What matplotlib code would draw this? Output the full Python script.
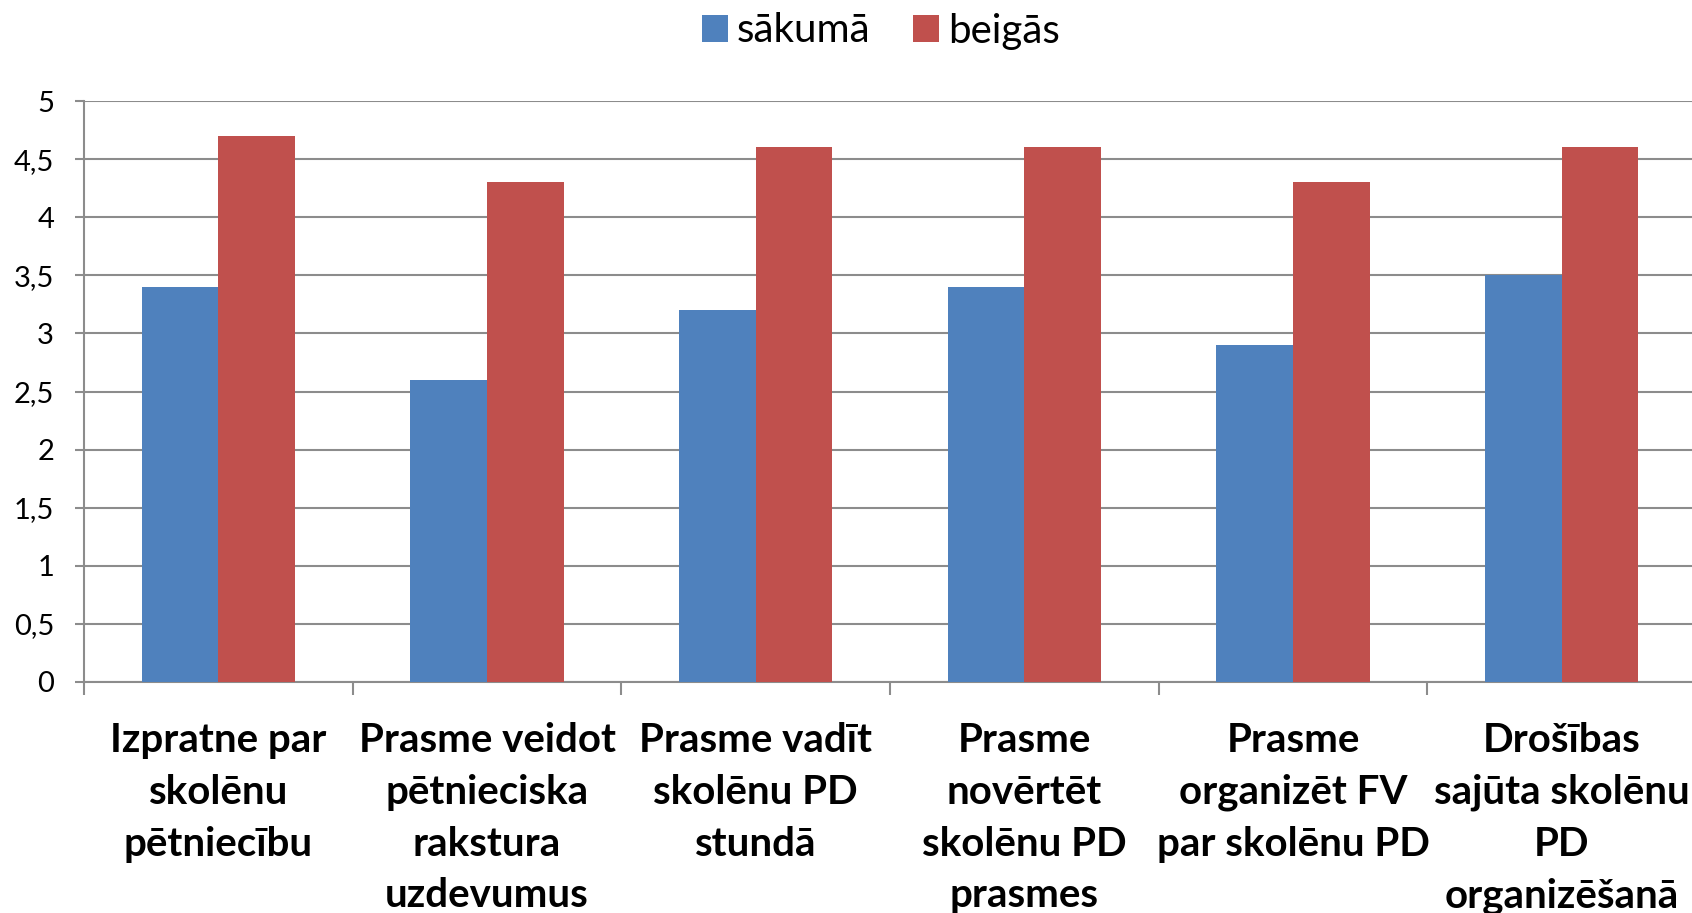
import matplotlib
matplotlib.use("Agg")
import matplotlib.pyplot as plt
import numpy as np

categories = [
    "Izpratne par\nskolēnu\npētniecību",
    "Prasme veidot\npētnieciska\nrakstura\nuzdevumus",
    "Prasme vadīt\nskolēnu PD\nstundā",
    "Prasme\nnovērtēt\nskolēnu PD\nprasmes",
    "Prasme\norganizēt FV\npar skolēnu PD",
    "Drošības\nsajūta skolēnu\nPD\norganizēšanā",
]
sakuma = [3.4, 2.6, 3.2, 3.4, 2.9, 3.5]
beigas = [4.7, 4.3, 4.6, 4.6, 4.3, 4.6]
series_names = ["sākumā", "beigās"]
yticks = [0, 0.5, 1, 1.5, 2, 2.5, 3, 3.5, 4, 4.5, 5]
ytick_labels = ["0", "0,5", "1", "1,5", "2", "2,5", "3", "3,5", "4", "4,5", "5"]

BLUE = "#4F81BD"
RED = "#C0504D"
GRID = "#8C8C8C"
FONT = ["Lato", "DejaVu Sans"]

plt.rcParams["font.family"] = FONT

W, H = 1692, 913
fig = plt.figure(figsize=(W / 100, H / 100), dpi=100)
left_px, right_px, top_px, bottom_px = 84, 1696, 101, 682
ax = fig.add_axes([left_px / W, 1 - bottom_px / H,
                   (right_px - left_px) / W, (bottom_px - top_px) / H])

x = np.arange(len(categories))
bw = 1 / 3.5
ax.bar(x - bw / 2, sakuma, width=bw, color=BLUE, label=series_names[0], zorder=3)
ax.bar(x + bw / 2, beigas, width=bw, color=RED, label=series_names[1], zorder=3)

ax.set_xlim(-0.5, len(categories) - 0.5)
ax.set_ylim(0, 5)
ax.set_yticks(yticks)
ax.set_yticklabels(ytick_labels, fontsize=21)
ax.yaxis.grid(True, color=GRID, linewidth=1.5, zorder=0)
ax.tick_params(axis="y", length=6.5, width=1.5, color=GRID, pad=15)

ax.set_xticks(x)
ax.set_xticklabels(categories, fontsize=29, fontweight="bold", linespacing=1.49)
ax.tick_params(axis="x", which="major", length=0, pad=29)
ax.set_xticks(np.arange(len(categories) + 1) - 0.5, minor=True)
ax.tick_params(axis="x", which="minor", length=9.5, width=1.5, color=GRID, direction="out")

for s in ["top", "right"]:
    ax.spines[s].set_visible(False)
for s in ["left", "bottom"]:
    ax.spines[s].set_color(GRID)
    ax.spines[s].set_linewidth(1.5)

leg = fig.legend(loc="center", bbox_to_anchor=(881 / W, 1 - 31 / H), ncol=2,
                 frameon=False, fontsize=29, handlelength=0.65, handleheight=0.65,
                 handletextpad=0.22, columnspacing=1.05)

fig.savefig("out.png", dpi=100)
